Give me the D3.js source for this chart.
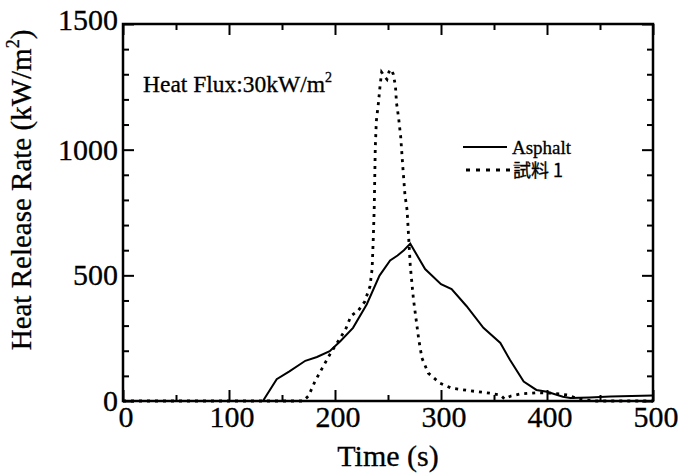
<!DOCTYPE html>
<html>
<head>
<meta charset="utf-8">
<script src="https://cdn.jsdelivr.net/npm/d3@7"></script>
<style>
  body { margin: 0; background: #fff; }
  svg { display: block; }
  text { font-family: "Liberation Serif", "Times New Roman", serif; fill: #000; stroke: #000; stroke-width: 0.3px; }
</style>
</head>
<body>
<script>
// ---------------- data ----------------
var asphaltTime = [0, 132, 145, 157, 172, 183, 195, 205, 217, 230, 242, 252, 259, 265, 271, 285, 300, 310, 324, 340, 356, 365, 378, 390, 400, 415, 422, 440, 460, 480, 500];
var asphaltHRR  = [0, 0, 87, 118, 160, 175, 198, 238, 291, 385, 499, 559, 579, 600, 626, 525, 465, 445, 378, 291, 231, 164, 77, 44, 37, 17, 12, 14, 18, 20, 22];

var sampleTime = [0, 170, 175, 181, 188, 195, 203, 210, 215, 222, 228, 233, 235, 236, 237, 238, 239, 241, 242.5, 244, 247, 249, 251, 253, 255, 257, 258, 260, 262, 264, 266, 268, 271, 274, 279, 282, 288, 299, 310, 327, 346, 356, 360, 366, 375, 390, 406, 419, 430, 445, 500];
var sampleHRR  = [0, 0, 20, 77, 131, 184, 238, 285, 338, 360, 395, 456, 525, 632, 766, 1007, 1114, 1187, 1254, 1308, 1290, 1280, 1310, 1320, 1300, 1254, 1187, 1127, 1050, 930, 820, 760, 539, 405, 245, 171, 111, 71, 51, 41, 31, 24, 8, 20, 28, 33, 31, 24, 8, 0, 0];

var seriesNames = ["Asphalt", "試料 1"];
var xMajorTicks = [0, 100, 200, 300, 400, 500];
var yMajorTicks = [0, 500, 1000, 1500];

// ---------------- layout ----------------
var width = 683, height = 476,
    plotL = 123, plotR = 653, plotT = 24, plotB = 401;

var svg = d3.select("body").append("svg")
    .attr("width", width)
    .attr("height", height);

var x = d3.scaleLinear().domain([0, 500]).range([plotL, plotR]);
var y = d3.scaleLinear().domain([0, 1500]).range([plotB, plotT]);

// minor ticks every 50 s / 100 kW/m2
var xMinor = d3.range(0, 501, 50).filter(function (d) { return d % 100 != 0; });
var yMinor = d3.range(0, 1501, 100).filter(function (d) { return d % 500 != 0; });

function tickAxis(axisFn, scale, ticks, size, tx, ty) {
    var g = svg.append("g")
        .attr("transform", "translate(" + tx + "," + ty + ")")
        .call(axisFn(scale).tickValues(ticks).tickSize(size).tickFormat(""));
    g.select(".domain").remove();
    g.selectAll("line").attr("stroke", "#000").attr("stroke-width", 2);
    return g;
}

// ticks pointing inwards on all four sides
tickAxis(d3.axisBottom, x, xMajorTicks, -11, 0, plotB);
tickAxis(d3.axisBottom, x, xMinor, -6, 0, plotB);
tickAxis(d3.axisTop, x, xMajorTicks, -11, 0, plotT);
tickAxis(d3.axisTop, x, xMinor, -6, 0, plotT);
tickAxis(d3.axisLeft, y, yMajorTicks, -11, plotL, 0);
tickAxis(d3.axisLeft, y, yMinor, -6, plotL, 0);
tickAxis(d3.axisRight, y, yMajorTicks, -11, plotR, 0);
tickAxis(d3.axisRight, y, yMinor, -6, plotR, 0);

// frame
svg.append("rect")
    .attr("x", plotL).attr("y", plotT)
    .attr("width", plotR - plotL).attr("height", plotB - plotT)
    .attr("fill", "none").attr("stroke", "#000").attr("stroke-width", 2.5);

// tick labels
svg.selectAll(".xlab").data(xMajorTicks).enter().append("text")
    .attr("class", "xlab")
    .attr("x", function (d) { return x(d) + 3; })
    .attr("y", 427)
    .attr("text-anchor", "middle")
    .attr("font-size", "30px")
    .text(function (d) { return d; });

svg.selectAll(".ylab").data(yMajorTicks).enter().append("text")
    .attr("class", "ylab")
    .attr("x", plotL - 5)
    .attr("y", function (d) { return y(d) + 10 - (d == 1500 ? 4 : 0); })
    .attr("text-anchor", "end")
    .attr("font-size", "30px")
    .text(function (d) { return d; });

// axis titles
svg.append("text")
    .attr("x", (plotL + plotR) / 2)
    .attr("y", 466)
    .attr("text-anchor", "middle")
    .attr("font-size", "30px")
    .text("Time (s)");

var ylab = svg.append("text")
    .attr("transform", "translate(31,190) rotate(-90)")
    .attr("text-anchor", "middle")
    .attr("font-size", "29px");
ylab.append("tspan").text("Heat Release Rate (kW/m");
ylab.append("tspan").attr("font-size", "18px").attr("dy", -12).text("2");
ylab.append("tspan").attr("dy", 12).text(")");

// annotation
var note = svg.append("text")
    .attr("x", 143).attr("y", 92)
    .attr("font-size", "23.5px");
note.append("tspan").text("Heat Flux:30kW/m");
note.append("tspan").attr("font-size", "14px").attr("dy", -10).text("2");

// ---------------- curves ----------------
var line = d3.line()
    .x(function (d) { return x(d[0]); })
    .y(function (d) { return y(d[1]); });

svg.append("path")
    .datum(d3.zip(asphaltTime, asphaltHRR))
    .attr("d", line)
    .attr("fill", "none")
    .attr("stroke", "#000")
    .attr("stroke-width", 2);

svg.append("path")
    .datum(d3.zip(sampleTime, sampleHRR))
    .attr("d", line)
    .attr("fill", "none")
    .attr("stroke", "#000")
    .attr("stroke-width", 2.8)
    .attr("stroke-dasharray", "3,5");

// ---------------- legend ----------------
svg.append("line")
    .attr("x1", 463).attr("x2", 507).attr("y1", 147).attr("y2", 147)
    .attr("stroke", "#000").attr("stroke-width", 2);
svg.append("text")
    .attr("x", 512).attr("y", 154)
    .attr("font-size", "19px")
    .text(seriesNames[0]);

svg.append("line")
    .attr("x1", 466).attr("x2", 512).attr("y1", 170).attr("y2", 170)
    .attr("stroke", "#000").attr("stroke-width", 2.8)
    .attr("stroke-dasharray", "4,6");
svg.append("text")
    .attr("x", 513).attr("y", 177)
    .attr("font-size", "18px")
    .style("font-family", "'Noto Sans CJK JP', 'Liberation Serif', serif")
    .text(seriesNames[1]);
</script>
</body>
</html>
